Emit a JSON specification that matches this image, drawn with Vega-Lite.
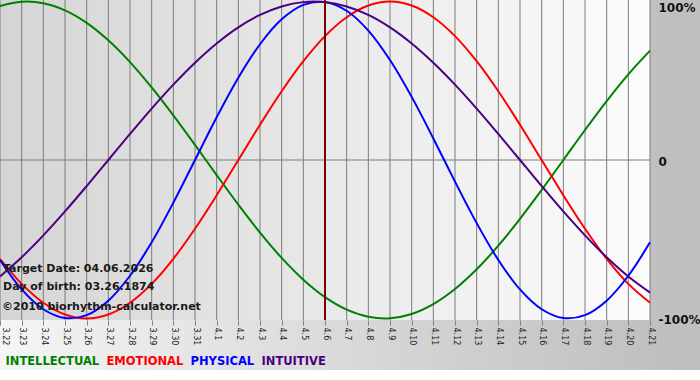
{
  "$schema": "https://vega.github.io/schema/vega-lite/v6.json",
  "width": 650,
  "height": 320,
  "autosize": {"type": "none"},
  "padding": {"left": 0, "top": 0, "right": 50, "bottom": 60},
  "background": "#ffffff",
  "config": {"view": {"stroke": null}},
  "data": {
    "values": [
      {"date": "2026-03-22", "INTELLECTUAL": 0.9718, "EMOTIONAL": -0.6235, "PHYSICAL": -0.6311, "INTUITIVE": -0.7357},
      {"date": "2026-03-23", "INTELLECTUAL": 0.9989, "EMOTIONAL": -0.7818, "PHYSICAL": -0.8170, "INTUITIVE": -0.6142},
      {"date": "2026-03-24", "INTELLECTUAL": 0.9898, "EMOTIONAL": -0.9010, "PHYSICAL": -0.9423, "INTUITIVE": -0.4759},
      {"date": "2026-03-25", "INTELLECTUAL": 0.9450, "EMOTIONAL": -0.9749, "PHYSICAL": -0.9977, "INTUITIVE": -0.3247},
      {"date": "2026-03-26", "INTELLECTUAL": 0.8660, "EMOTIONAL": -1.0, "PHYSICAL": -0.9791, "INTUITIVE": -0.1646},
      {"date": "2026-03-27", "INTELLECTUAL": 0.7557, "EMOTIONAL": -0.9749, "PHYSICAL": -0.8879, "INTUITIVE": 0.0},
      {"date": "2026-03-28", "INTELLECTUAL": 0.6182, "EMOTIONAL": -0.9010, "PHYSICAL": -0.7308, "INTUITIVE": 0.1646},
      {"date": "2026-03-29", "INTELLECTUAL": 0.4582, "EMOTIONAL": -0.7818, "PHYSICAL": -0.5196, "INTUITIVE": 0.3247},
      {"date": "2026-03-30", "INTELLECTUAL": 0.2817, "EMOTIONAL": -0.6235, "PHYSICAL": -0.2698, "INTUITIVE": 0.4759},
      {"date": "2026-03-31", "INTELLECTUAL": 0.0951, "EMOTIONAL": -0.4339, "PHYSICAL": 0.0, "INTUITIVE": 0.6142},
      {"date": "2026-04-01", "INTELLECTUAL": -0.0951, "EMOTIONAL": -0.2225, "PHYSICAL": 0.2698, "INTUITIVE": 0.7357},
      {"date": "2026-04-02", "INTELLECTUAL": -0.2817, "EMOTIONAL": 0.0, "PHYSICAL": 0.5196, "INTUITIVE": 0.8372},
      {"date": "2026-04-03", "INTELLECTUAL": -0.4582, "EMOTIONAL": 0.2225, "PHYSICAL": 0.7308, "INTUITIVE": 0.9158},
      {"date": "2026-04-04", "INTELLECTUAL": -0.6182, "EMOTIONAL": 0.4339, "PHYSICAL": 0.8879, "INTUITIVE": 0.9694},
      {"date": "2026-04-05", "INTELLECTUAL": -0.7557, "EMOTIONAL": 0.6235, "PHYSICAL": 0.9791, "INTUITIVE": 0.9966},
      {"date": "2026-04-06", "INTELLECTUAL": -0.8660, "EMOTIONAL": 0.7818, "PHYSICAL": 0.9977, "INTUITIVE": 0.9966},
      {"date": "2026-04-07", "INTELLECTUAL": -0.9450, "EMOTIONAL": 0.9010, "PHYSICAL": 0.9423, "INTUITIVE": 0.9694},
      {"date": "2026-04-08", "INTELLECTUAL": -0.9898, "EMOTIONAL": 0.9749, "PHYSICAL": 0.8170, "INTUITIVE": 0.9158},
      {"date": "2026-04-09", "INTELLECTUAL": -0.9989, "EMOTIONAL": 1.0, "PHYSICAL": 0.6311, "INTUITIVE": 0.8372},
      {"date": "2026-04-10", "INTELLECTUAL": -0.9718, "EMOTIONAL": 0.9749, "PHYSICAL": 0.3984, "INTUITIVE": 0.7357},
      {"date": "2026-04-11", "INTELLECTUAL": -0.9096, "EMOTIONAL": 0.9010, "PHYSICAL": 0.1362, "INTUITIVE": 0.6142},
      {"date": "2026-04-12", "INTELLECTUAL": -0.8146, "EMOTIONAL": 0.7818, "PHYSICAL": -0.1362, "INTUITIVE": 0.4759},
      {"date": "2026-04-13", "INTELLECTUAL": -0.6901, "EMOTIONAL": 0.6235, "PHYSICAL": -0.3984, "INTUITIVE": 0.3247},
      {"date": "2026-04-14", "INTELLECTUAL": -0.5406, "EMOTIONAL": 0.4339, "PHYSICAL": -0.6311, "INTUITIVE": 0.1646},
      {"date": "2026-04-15", "INTELLECTUAL": -0.3717, "EMOTIONAL": 0.2225, "PHYSICAL": -0.8170, "INTUITIVE": 0.0},
      {"date": "2026-04-16", "INTELLECTUAL": -0.1893, "EMOTIONAL": 0.0, "PHYSICAL": -0.9423, "INTUITIVE": -0.1646},
      {"date": "2026-04-17", "INTELLECTUAL": 0.0, "EMOTIONAL": -0.2225, "PHYSICAL": -0.9977, "INTUITIVE": -0.3247},
      {"date": "2026-04-18", "INTELLECTUAL": 0.1893, "EMOTIONAL": -0.4339, "PHYSICAL": -0.9791, "INTUITIVE": -0.4759},
      {"date": "2026-04-19", "INTELLECTUAL": 0.3717, "EMOTIONAL": -0.6235, "PHYSICAL": -0.8879, "INTUITIVE": -0.6142},
      {"date": "2026-04-20", "INTELLECTUAL": 0.5406, "EMOTIONAL": -0.7818, "PHYSICAL": -0.7308, "INTUITIVE": -0.7357},
      {"date": "2026-04-21", "INTELLECTUAL": 0.6901, "EMOTIONAL": -0.9010, "PHYSICAL": -0.5196, "INTUITIVE": -0.8372}
    ]
  },
  "layer": [
    {
      "data": {"values": [{}]},
      "mark": {
        "type": "rect",
        "clip": false,
        "fill": {"gradient": "linear", "x1": 0, "y1": 0, "x2": 1, "y2": 0,
          "stops": [{"offset": 0, "color": "#f5f5f5"}, {"offset": 0.93, "color": "#c0c0c0"}, {"offset": 1, "color": "#bfbfbf"}]}
      },
      "encoding": {
        "x": {"datum": {"year": 2026, "month": 3, "date": 22, "utc": true}, "type": "temporal",
          "scale": {"type": "utc", "domain": [{"year": 2026, "month": 3, "date": 22, "utc": true}, {"year": 2026, "month": 4, "date": 21, "utc": true}]}},
        "x2": {"datum": {"year": 2026, "month": 4, "date": 23, "hours": 8, "utc": true}},
        "y": {"datum": 1.01, "type": "quantitative", "scale": {"domain": [-1.01, 1.01], "nice": false, "zero": false}},
        "y2": {"datum": -1.326}
      }
    },
    {
      "data": {"values": [{}]},
      "mark": {
        "type": "rect",
        "fill": {"gradient": "linear", "x1": 0, "y1": 0, "x2": 1, "y2": 0,
          "stops": [{"offset": 0, "color": "#d5d5d5"}, {"offset": 1, "color": "#fcfcfc"}]}
      },
      "encoding": {
        "x": {"datum": {"year": 2026, "month": 3, "date": 22, "utc": true}, "type": "temporal"},
        "x2": {"datum": {"year": 2026, "month": 4, "date": 21, "utc": true}},
        "y": {"datum": 1.01, "type": "quantitative"},
        "y2": {"datum": -1.01}
      }
    },
    {
      "mark": {"type": "rule", "color": "#7c7c7c", "strokeWidth": 1},
      "encoding": {
        "x": {
          "field": "date", "type": "temporal",
          "scale": {"type": "utc", "domain": [{"year": 2026, "month": 3, "date": 22, "utc": true}, {"year": 2026, "month": 4, "date": 21, "utc": true}]},
          "axis": {
            "title": null, "grid": false, "domain": false, "ticks": true, "tickColor": "#808080", "tickSize": 5, "tickWidth": 1,
            "tickCount": {"interval": "day", "step": 1},
            "labelExpr": "utcFormat(datum.value, '%-m.%-d')",
            "labelAngle": 90, "labelAlign": "left", "labelBaseline": "middle", "labelPadding": 2,
            "labelOffset": {"condition": {"test": "datum.index == 0", "value": 4}, "value": 0},
            "labelFont": "DejaVu Sans", "labelFontSize": 8, "labelColor": "#222222",
            "labelOverlap": false, "labelBound": false, "labelFlush": false, "zindex": 1
          }
        }
      }
    },
    {
      "data": {"values": [{}]},
      "mark": {"type": "rule", "color": "#7c7c7c", "strokeWidth": 1},
      "encoding": {"y": {"datum": 0, "type": "quantitative"}}
    },
    {
      "transform": [{"fold": ["INTELLECTUAL", "EMOTIONAL", "PHYSICAL", "INTUITIVE"], "as": ["series", "value"]}],
      "mark": {"type": "line", "interpolate": "catmull-rom", "strokeWidth": 2},
      "encoding": {
        "x": {"field": "date", "type": "temporal"},
        "y": {
          "field": "value", "type": "quantitative",
          "scale": {"domain": [-1.01, 1.01], "nice": false, "zero": false},
          "axis": {
            "orient": "right", "title": null, "values": [1, 0, -1],
            "labelExpr": "datum.value == 0 ? '0' : (datum.value > 0 ? '100%' : '-100%')",
            "grid": false, "domain": false, "ticks": false, "tickSize": 0, "labelPadding": 8,
            "labelFont": "DejaVu Sans", "labelFontWeight": "bold", "labelFontSize": 12, "labelColor": "#111111",
            "labelBaseline": {"condition": {"test": "datum.value == 1", "value": "top"}, "value": "middle"},
            "labelOffset": 1, "labelOverlap": false, "labelBound": false, "labelFlush": false, "zindex": 1
          }
        },
        "color": {
          "field": "series", "type": "nominal",
          "scale": {"domain": ["INTELLECTUAL", "EMOTIONAL", "PHYSICAL", "INTUITIVE"], "range": ["#008000", "#ff0000", "#0000ff", "#4b0082"]},
          "legend": {
            "title": null, "orient": "bottom", "direction": "horizontal", "offset": 4, "padding": 7,
            "symbolSize": 0, "symbolOpacity": 0, "symbolStrokeWidth": 0, "labelOffset": -13, "columnPadding": 6,
            "labelFont": "DejaVu Sans", "labelFontWeight": "bold", "labelFontSize": 11.5,
            "encode": {"labels": {"update": {"fill": {"scale": "color", "field": "value"}}}}
          }
        }
      }
    },
    {
      "data": {"values": [{}]},
      "mark": {"type": "rule", "color": "#800000", "strokeWidth": 2},
      "encoding": {"x": {"datum": {"year": 2026, "month": 4, "date": 6, "utc": true}, "type": "temporal"}}
    },
    {
      "data": {"values": [{}]},
      "mark": {"type": "text", "text": "Target Date: 04.06.2026", "align": "left", "baseline": "middle", "dx": 3, "font": "DejaVu Sans", "fontWeight": "bold", "fontSize": 11, "color": "#1a1a1a"},
      "encoding": {
        "x": {"datum": {"year": 2026, "month": 3, "date": 22, "utc": true}, "type": "temporal"},
        "y": {"datum": -0.69, "type": "quantitative"}
      }
    },
    {
      "data": {"values": [{}]},
      "mark": {"type": "text", "text": "Day of birth: 03.26.1874", "align": "left", "baseline": "middle", "dx": 3, "font": "DejaVu Sans", "fontWeight": "bold", "fontSize": 11, "color": "#1a1a1a"},
      "encoding": {
        "x": {"datum": {"year": 2026, "month": 3, "date": 22, "utc": true}, "type": "temporal"},
        "y": {"datum": -0.80, "type": "quantitative"}
      }
    },
    {
      "data": {"values": [{}]},
      "mark": {"type": "text", "text": "©2010 biorhythm-calculator.net", "align": "left", "baseline": "middle", "dx": 2, "font": "DejaVu Sans", "fontWeight": "bold", "fontSize": 11, "color": "#1a1a1a"},
      "encoding": {
        "x": {"datum": {"year": 2026, "month": 3, "date": 22, "utc": true}, "type": "temporal"},
        "y": {"datum": -0.93, "type": "quantitative"}
      }
    }
  ]
}
